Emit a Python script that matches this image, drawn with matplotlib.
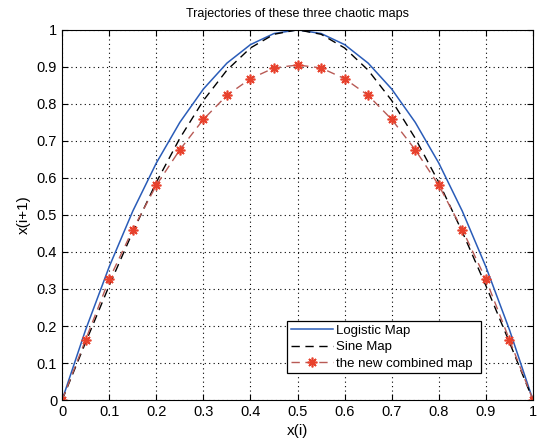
import matplotlib
matplotlib.use("Agg")
import matplotlib.pyplot as plt
import numpy as np

plt.rcParams["font.family"] = ["Liberation Sans", "DejaVu Sans"]

# x(i) sampled every 0.05
x_vals = [0.00, 0.05, 0.10, 0.15, 0.20, 0.25, 0.30, 0.35, 0.40, 0.45, 0.50,
          0.55, 0.60, 0.65, 0.70, 0.75, 0.80, 0.85, 0.90, 0.95, 1.00]
logistic = [0.00, 0.19, 0.36, 0.51, 0.64, 0.75, 0.84, 0.91, 0.96, 0.99, 1.00,
            0.99, 0.96, 0.91, 0.84, 0.75, 0.64, 0.51, 0.36, 0.19, 0.00]
sine = [0.000, 0.156, 0.309, 0.454, 0.588, 0.707, 0.809, 0.891, 0.951, 0.988, 1.000,
        0.988, 0.951, 0.891, 0.809, 0.707, 0.588, 0.454, 0.309, 0.156, 0.000]
combined = [0.000, 0.163, 0.326, 0.460, 0.580, 0.676, 0.758, 0.823, 0.868, 0.897, 0.905,
            0.897, 0.868, 0.823, 0.758, 0.676, 0.580, 0.460, 0.326, 0.163, 0.000]

fig = plt.figure(figsize=(5.40, 4.45), dpi=100)
ax = fig.add_axes([0.115, 0.101, 0.872, 0.832])

ax.plot(x_vals, logistic, color="#2a5cb8", lw=1.1, label="Logistic Map")
ax.plot(x_vals, sine, color="black", lw=1.0, ls=(0, (6, 4)), label="Sine Map")
ax.plot(x_vals, combined, color="#b85a55", lw=1.0, ls=(0, (6, 4)),
        marker=(8, 2, 0), ms=7, mew=1.2, mfc="#e8412c", mec="#e8412c",
        label="the new combined map")

ax.set_xlim(0, 1)
ax.set_ylim(0, 1)
ax.set_xticks(np.arange(0, 1.01, 0.1))
ax.set_yticks(np.arange(0, 1.01, 0.1))
ax.set_xticklabels(["0", "0.1", "0.2", "0.3", "0.4", "0.5", "0.6", "0.7", "0.8", "0.9", "1"])
ax.set_yticklabels(["0", "0.1", "0.2", "0.3", "0.4", "0.5", "0.6", "0.7", "0.8", "0.9", "1"])
ax.tick_params(direction="in", top=True, right=True, labelsize=10.5, length=4)
ax.grid(True, ls=(0, (1, 3)), color="black", lw=0.8)
ax.set_axisbelow(True)

ax.set_title("Trajectories of these three chaotic maps", fontsize=9, pad=9)
ax.set_xlabel("x(i)", fontsize=11, labelpad=4)
ax.set_ylabel("x(i+1)", fontsize=11, labelpad=4)

leg = ax.legend(loc="lower left", bbox_to_anchor=(0.463, 0.054, 0.441, 0.181),
                mode="expand", fontsize=9.5, fancybox=False, framealpha=1,
                edgecolor="black", handlelength=3.2, borderpad=0.3, labelspacing=0.3,
                handletextpad=0.2)
leg.get_frame().set_linewidth(0.9)

fig.savefig("out.png", dpi=100)
